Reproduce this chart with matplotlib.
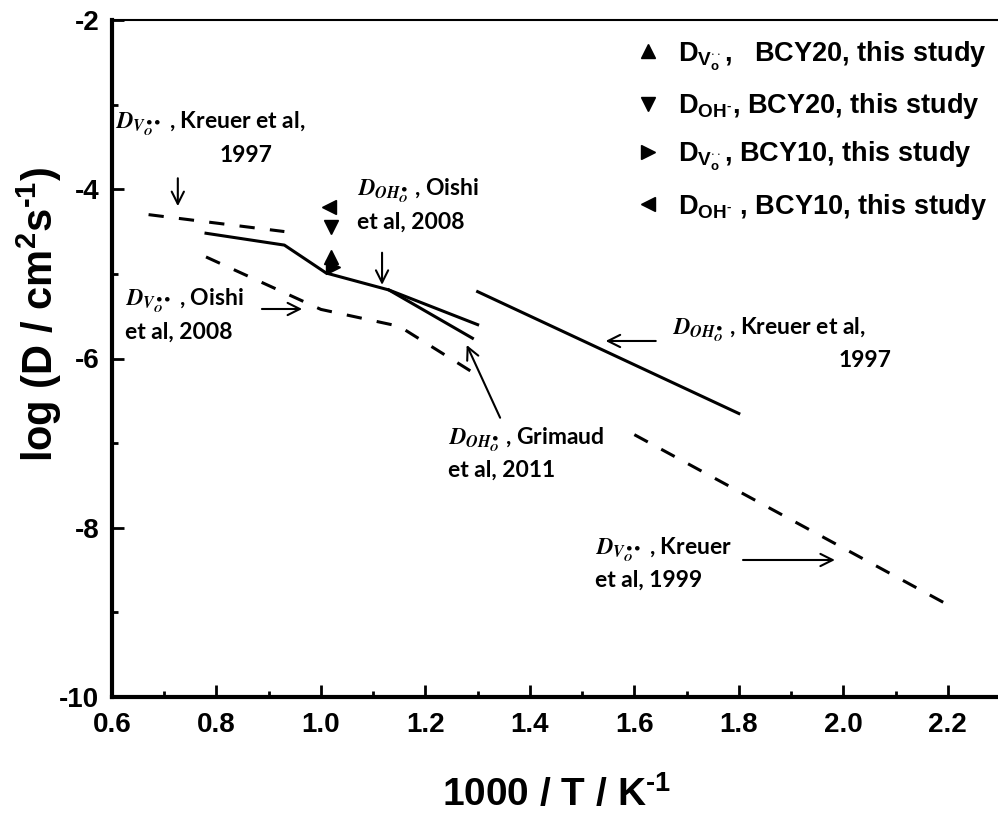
import matplotlib
matplotlib.use("Agg")
import matplotlib.pyplot as plt
from matplotlib.ticker import MultipleLocator

plt.rcParams["font.family"] = ["Liberation Sans", "DejaVu Sans"]
plt.rcParams["font.weight"] = "bold"
plt.rcParams["axes.unicode_minus"] = False
plt.rcParams["mathtext.fontset"] = "custom"
plt.rcParams["mathtext.rm"] = "Liberation Sans:bold"
plt.rcParams["mathtext.it"] = "Liberation Sans:bold"
plt.rcParams["mathtext.bf"] = "Liberation Sans:bold"

# literature curves, x = 1000/T (K^-1), y = log D (cm2/s)
kreuer97_v_x = [0.67, 0.93]
kreuer97_v_y = [-4.30, -4.50]

oishi08_oh_x = [0.78, 0.93, 1.01, 1.13, 1.30]
oishi08_oh_y = [-4.52, -4.66, -4.99, -5.19, -5.60]

grimaud11_oh_x = [1.13, 1.29]
grimaud11_oh_y = [-5.19, -5.76]

oishi08_v_x = [0.78, 1.00, 1.15, 1.30]
oishi08_v_y = [-4.80, -5.42, -5.62, -6.20]

kreuer97_oh_x = [1.30, 1.80]
kreuer97_oh_y = [-5.21, -6.65]

kreuer99_v_x = [1.60, 2.20]
kreuer99_v_y = [-6.90, -8.91]

# this study
bcy20_v_x, bcy20_v_y = [1.02], [-4.80]
bcy20_oh_x, bcy20_oh_y = [1.02], [-4.45]
bcy10_v_x, bcy10_v_y = [1.024], [-4.92]
bcy10_oh_x, bcy10_oh_y = [1.016], [-4.21]

legend_labels = [
    r"D$_{\mathrm{V}_{\mathrm{o}}^{\cdot\cdot}}$,   BCY20, this study",
    r"D$_{\mathrm{OH}^{\text{-}}}$, BCY20, this study",
    r"D$_{\mathrm{V}_{\mathrm{o}}^{\cdot\cdot}}$, BCY10, this study",
    r"D$_{\mathrm{OH}^{\text{-}}}$ , BCY10, this study",
]

DV = r"$D_{V_O^{\bullet\bullet}}$"
DOH = r"$D_{OH_O^{\bullet}}$"

fig = plt.figure(figsize=(9.98, 8.23), dpi=100)
ax = fig.add_axes([112 / 998, 126 / 823, 888 / 998, 677 / 823])

lw = 2.2
ax.plot(kreuer97_v_x, kreuer97_v_y, color="black", lw=lw, dashes=(5, 5))
ax.plot(oishi08_oh_x, oishi08_oh_y, color="black", lw=lw)
ax.plot(grimaud11_oh_x, grimaud11_oh_y, color="black", lw=lw)
ax.plot(oishi08_v_x, oishi08_v_y, color="black", lw=lw, dashes=(5, 5))
ax.plot(kreuer97_oh_x, kreuer97_oh_y, color="black", lw=lw)
ax.plot(kreuer99_v_x, kreuer99_v_y, color="black", lw=lw, dashes=(5, 5))

ms = 10
h1, = ax.plot(bcy20_v_x, bcy20_v_y, "^", color="black", ms=ms, ls="none")
h2, = ax.plot(bcy20_oh_x, bcy20_oh_y, "v", color="black", ms=ms, ls="none")
h3, = ax.plot(bcy10_v_x, bcy10_v_y, ">", color="black", ms=ms, ls="none")
h4, = ax.plot(bcy10_oh_x, bcy10_oh_y, "<", color="black", ms=ms, ls="none")

ax.legend([h1, h2, h3, h4], legend_labels, loc="upper left",
          bbox_to_anchor=(0.595, 0.972), frameon=False, fontsize=19.5,
          handlelength=0.6, handletextpad=0.8, labelspacing=0.68,
          borderaxespad=0, borderpad=0)

# callouts for the literature curves
note = dict(fontsize=16.5, family="Lato", weight="bold", math_fontfamily="stix",
            va="center")
arrow = dict(arrowstyle="->", color="black", lw=1.5, mutation_scale=22,
             shrinkA=0, shrinkB=0)

ax.text(0.606, -3.22, DV + " , Kreuer et al,", ha="left", **note)
ax.text(0.856, -3.60, "1997", ha="center", **note)
ax.annotate("", xy=(0.726, -4.20), xytext=(0.726, -3.87), arrowprops=arrow)

ax.text(1.069, -4.02, DOH + " , Oishi", ha="left", **note)
ax.text(1.069, -4.39, "et al, 2008", ha="left", **note)
ax.annotate("", xy=(1.117, -5.13), xytext=(1.117, -4.75), arrowprops=arrow)

ax.text(0.625, -5.31, DV + " , Oishi", ha="left", **note)
ax.text(0.625, -5.69, "et al, 2008", ha="left", **note)
ax.annotate("", xy=(0.964, -5.415), xytext=(0.887, -5.415), arrowprops=arrow)

ax.text(1.243, -6.96, DOH + " , Grimaud", ha="left", **note)
ax.text(1.243, -7.32, "et al, 2011", ha="left", **note)
ax.annotate("", xy=(1.279, -5.84), xytext=(1.343, -6.70), arrowprops=arrow)

ax.text(1.672, -5.66, DOH + " , Kreuer et al,", ha="left", **note)
ax.text(2.041, -6.02, "1997", ha="center", **note)
ax.annotate("", xy=(1.545, -5.793), xytext=(1.641, -5.793), arrowprops=arrow)

ax.text(1.524, -8.26, DV + " , Kreuer", ha="left", **note)
ax.text(1.524, -8.62, "et al, 1999", ha="left", **note)
ax.annotate("", xy=(1.984, -8.381), xytext=(1.808, -8.381), arrowprops=arrow)

ax.set_xlim(0.6, 2.3)
ax.set_ylim(-10, -2)
ax.xaxis.set_minor_locator(MultipleLocator(0.1))
ax.yaxis.set_major_locator(MultipleLocator(2))
ax.yaxis.set_minor_locator(MultipleLocator(1))
ax.set_xticks([0.6, 0.8, 1.0, 1.2, 1.4, 1.6, 1.8, 2.0, 2.2])
ax.set_xticklabels(["0.6", "0.8", "1.0", "1.2", "1.4", "1.6", "1.8", "2.0", "2.2"])
ax.tick_params(which="both", direction="in", width=2, labelsize=20)
ax.tick_params(which="major", length=8.5)
ax.tick_params(which="minor", length=4.5)
ax.tick_params(axis="x", which="major", pad=11)
ax.tick_params(axis="y", which="major", pad=9)

ax.spines["left"].set_linewidth(3)
ax.spines["bottom"].set_linewidth(3)
ax.spines["top"].set_linewidth(1.5)
ax.spines["right"].set_visible(False)

ax.set_xlabel(r"1000 / T / K$^{\text{-1}}$", fontsize=28, fontweight="bold")
ax.set_ylabel(r"log (D / cm$^{\text{2}}$s$^{\text{-1}}$)", fontsize=30,
              fontweight="bold")
ax.xaxis.set_label_coords(0.5, -0.115)
ax.yaxis.set_label_coords(-0.054, 0.565)

fig.savefig("out.png", dpi=100)
